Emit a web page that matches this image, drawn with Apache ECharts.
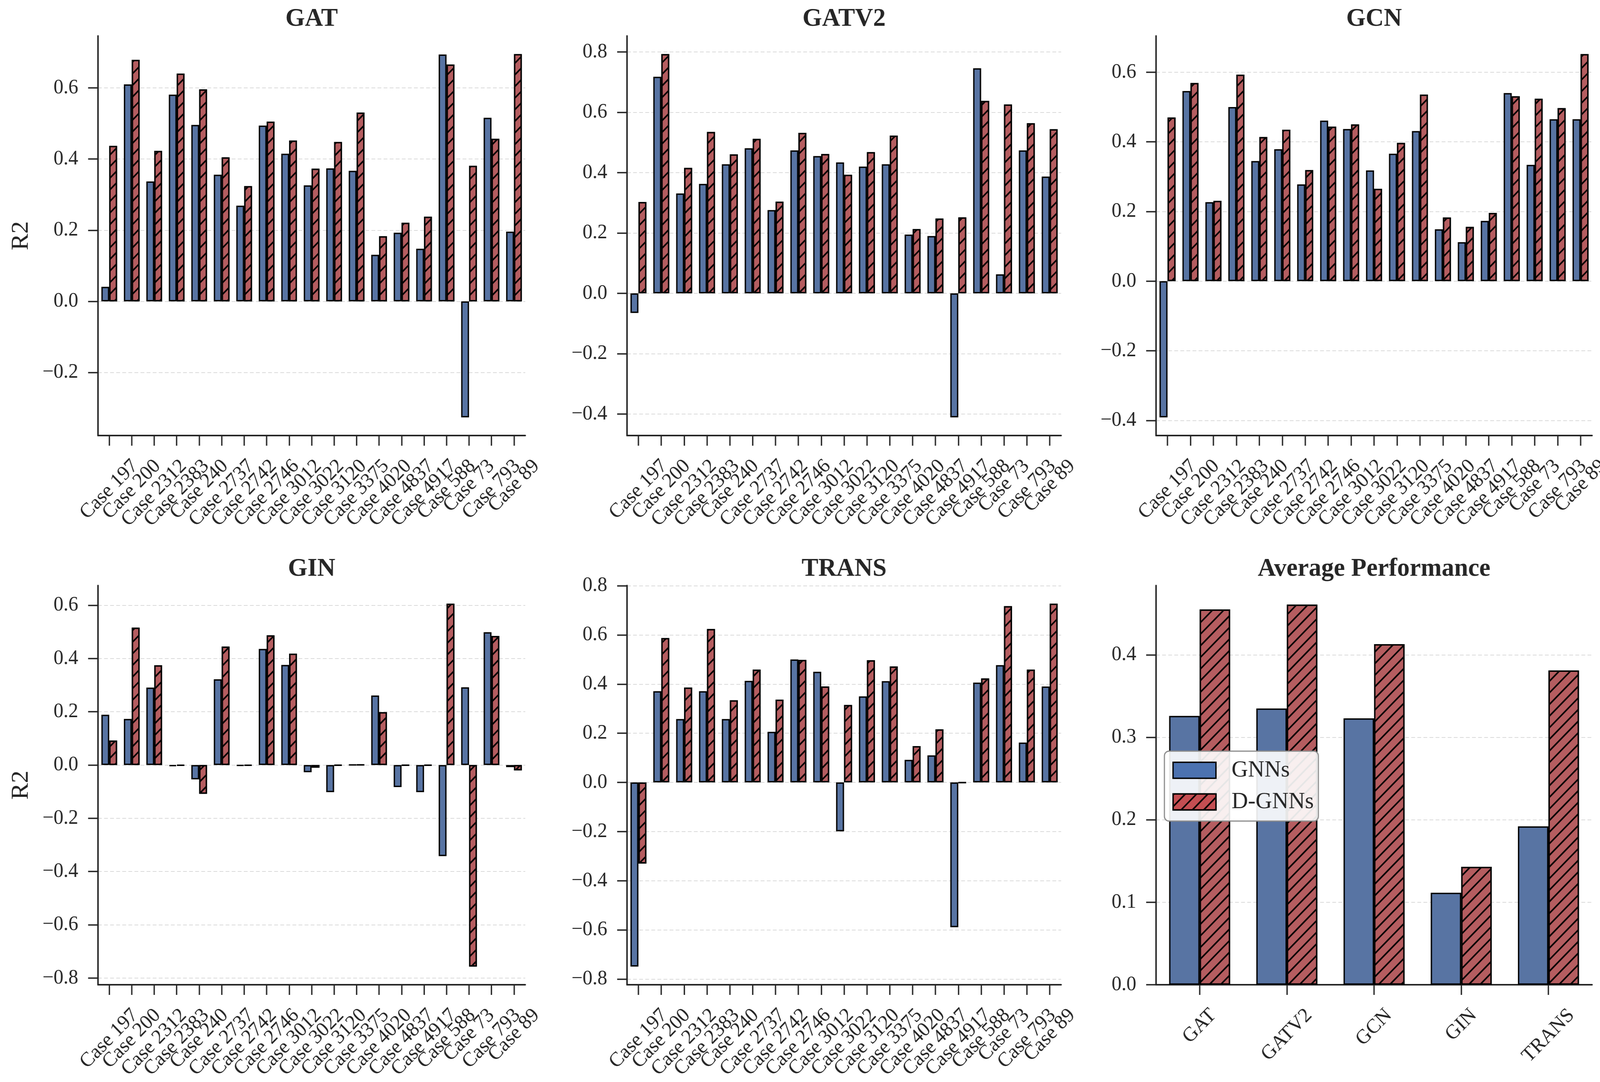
<!DOCTYPE html>
<html>
<head>
<meta charset="utf-8">
<script src="https://cdn.jsdelivr.net/npm/echarts/dist/echarts.min.js"></script>
<style>
html,body{margin:0;padding:0;background:#ffffff;overflow:hidden;}
#chart{width:4213px;height:2770px;transform-origin:0 0;}
</style>
</head>
<body>
<div id="chart"></div>
<script>
// ---------------- data ----------------
const cases = ['Case 197','Case 200','Case 2312','Case 2383','Case 240','Case 2737','Case 2742','Case 2746','Case 3012','Case 3022','Case 3120','Case 3375','Case 4020','Case 4837','Case 4917','Case 588','Case 73','Case 793','Case 89'];

const gatGNN    = [0.041,0.610,0.337,0.581,0.496,0.356,0.269,0.494,0.415,0.326,0.374,0.367,0.131,0.193,0.148,0.694,-0.326,0.516,0.196];
const gatDGNN   = [0.437,0.679,0.423,0.640,0.596,0.405,0.324,0.505,0.452,0.373,0.448,0.531,0.183,0.221,0.238,0.666,0.381,0.457,0.695];
const gatv2GNN  = [-0.065,0.718,0.331,0.363,0.428,0.481,0.276,0.474,0.455,0.434,0.420,0.428,0.195,0.190,-0.411,0.746,0.063,0.474,0.387];
const gatv2DGNN = [0.303,0.793,0.416,0.535,0.461,0.512,0.304,0.532,0.462,0.393,0.468,0.523,0.213,0.248,0.252,0.638,0.626,0.564,0.544];
const gcnGNN    = [-0.391,0.546,0.227,0.500,0.345,0.379,0.278,0.461,0.437,0.318,0.366,0.431,0.149,0.112,0.173,0.540,0.334,0.465,0.465];
const gcnDGNN   = [0.470,0.569,0.231,0.593,0.414,0.435,0.319,0.444,0.450,0.265,0.397,0.536,0.183,0.156,0.196,0.531,0.524,0.497,0.652];
const ginGNN    = [0.189,0.173,0.291,-0.004,-0.054,0.322,-0.003,0.436,0.376,-0.027,-0.102,0.001,0.261,-0.083,-0.102,-0.342,0.292,0.499,-0.008];
const ginDGNN   = [0.092,0.516,0.375,-0.002,-0.108,0.445,-0.002,0.487,0.418,-0.010,-0.001,0.001,0.199,-0.001,-0.001,0.606,-0.757,0.485,-0.020];
const transGNN  = [-0.749,0.371,0.258,0.371,0.258,0.413,0.206,0.500,0.450,-0.199,0.350,0.412,0.092,0.110,-0.589,0.406,0.477,0.162,0.390];
const transDGNN = [-0.330,0.587,0.386,0.624,0.334,0.459,0.337,0.498,0.390,0.315,0.497,0.472,0.148,0.216,-0.001,0.423,0.717,0.459,0.727];

const models   = ['GAT','GATV2','GCN','GIN','TRANS'];
const avgGNN   = [0.326,0.335,0.323,0.1115,0.192];
const avgDGNN  = [0.455,0.461,0.413,0.143,0.381];

const seriesNames = ['GNNs','D-GNNs'];
const panelTitles = ['GAT','GATV2','GCN','GIN','TRANS','Average Performance'];
const yAxisName = 'R2';
const caseStep = 0.2;
const avgStep = 0.1;

// ---------------- styling / layout ----------------
const W = 4213, H = 2770;
const FONT = '"Liberation Serif","Times New Roman",serif';
const INK = '#262626';
const BLUE = '#5874a3', RED = '#b55d60';
const BLUE_LEG = '#4c72b0', RED_LEG = '#c44e52';
const TICK_FS = 52;
const TITLE_FS = 66;

// fit the 4213x2770 design into whatever viewport we get
(function fit(){
  const vw = window.innerWidth || W, vh = window.innerHeight || H;
  const sx = vw / W, sy = vh / H;
  if (Math.abs(sx - 1) > 0.001 || Math.abs(sy - 1) > 0.001) {
    document.getElementById('chart').style.transform = 'scale(' + sx + ',' + sy + ')';
  }
})();

const boxes = [
  {left:258,  top:92,   width:1125, height:1023},
  {left:1651, top:92,   width:1143, height:1023},
  {left:3044, top:92,   width:1148, height:1023},
  {left:258,  top:1499, width:1125, height:1022},
  {left:1651, top:1499, width:1143, height:1022},
  {left:3044, top:1499, width:1148, height:1022}
];
const titleY = [16, 16, 16, 1424, 1424, 1424];

const panels = [
  {cats: cases,  a: gatGNN,   b: gatDGNN,   step: caseStep},
  {cats: cases,  a: gatv2GNN, b: gatv2DGNN, step: caseStep},
  {cats: cases,  a: gcnGNN,   b: gcnDGNN,   step: caseStep},
  {cats: cases,  a: ginGNN,   b: ginDGNN,   step: caseStep},
  {cats: cases,  a: transGNN, b: transDGNN, step: caseStep},
  {cats: models, a: avgGNN,   b: avgDGNN,   step: avgStep}
];

// matplotlib-like autoscale (5% margins, sticky zero for bars)
function limits(arrs){
  let mn = Infinity, mx = -Infinity;
  arrs.forEach(a => a.forEach(v => { mn = Math.min(mn, v); mx = Math.max(mx, v); }));
  const lo = Math.min(0, mn), hi = Math.max(0, mx);
  const pad = 0.05 * (hi - lo);
  return [mn < 0 ? lo - pad : 0, mx > 0 ? hi + pad : 0];
}
function tickVals(lo, hi, step){
  const out = [];
  for (let k = Math.ceil(lo / step - 1e-9); k * step <= hi + 1e-9; k++) out.push(+(k * step).toFixed(3));
  return out;
}
function fmt(v){ return Number(v).toFixed(1).replace('-', '\u2212'); }

const axisLineStyle = {color: INK, width: 4};
const tickLineStyle = {color: INK, width: 3.5};
const hatch = {
  symbol: 'rect', symbolSize: 1, symbolKeepAspect: false,
  dashArrayX: [1, 0], dashArrayY: [3.5, 17],
  rotation: -Math.PI / 4, color: '#000000', backgroundColor: null
};

const grid = [], xAxis = [], yAxis = [], series = [], title = [], lims = [];
panels.forEach((p, i) => {
  const b = boxes[i];
  grid.push({left: b.left, top: b.top, width: b.width, height: b.height, containLabel: false, outerBoundsMode: 'none'});
  const [lo, hi] = limits([p.a, p.b]);
  lims.push([lo, hi]);
  const tv = tickVals(lo, hi, p.step);
  xAxis.push({
    type: 'category', gridIndex: i, data: p.cats, boundaryGap: true,
    axisLine: {show: true, onZero: false, lineStyle: axisLineStyle},
    axisTick: {show: true, alignWithLabel: true, length: 26, inside: false, interval: 0, lineStyle: tickLineStyle},
    axisLabel: {show: false, interval: 0},
    splitLine: {show: false}
  });
  const y = {
    type: 'value', gridIndex: i, min: lo, max: hi,
    axisLine: {show: true, onZero: false, lineStyle: axisLineStyle},
    axisTick: {show: true, length: 26, inside: false, customValues: tv, lineStyle: tickLineStyle},
    axisLabel: {show: true, customValues: tv, formatter: fmt, margin: 52, fontSize: TICK_FS, fontFamily: FONT, color: INK},
    splitLine: {show: true, lineStyle: {color: '#dadada', width: 2, type: [10, 6]}}
  };
  if (i === 0 || i === 3) {
    Object.assign(y, {name: yAxisName, nameLocation: 'middle', nameRotate: 90, nameGap: 170,
      nameTextStyle: {fontSize: 64, fontFamily: FONT, color: INK}});
  }
  yAxis.push(y);
  const bw = '35%';
  series.push({
    type: 'bar', name: seriesNames[0], xAxisIndex: i, yAxisIndex: i, data: p.a,
    barWidth: bw, barGap: '0%', itemStyle: {color: BLUE, borderColor: '#000', borderWidth: 3.5},
    emphasis: {disabled: true}
  });
  series.push({
    type: 'bar', name: seriesNames[1], xAxisIndex: i, yAxisIndex: i, data: p.b,
    barWidth: bw, barGap: '0%', itemStyle: {color: RED, borderColor: '#000', borderWidth: 3.5, decal: hatch},
    emphasis: {disabled: true}
  });
  title.push({
    text: panelTitles[i], left: b.left + b.width / 2, top: titleY[i], textAlign: 'center', padding: 0,
    textStyle: {fontSize: TITLE_FS, fontWeight: 'bold', fontFamily: FONT, color: INK}
  });
});

const option = {
  backgroundColor: '#ffffff',
  animation: false,
  aria: {enabled: false},
  title: title,
  grid: grid, xAxis: xAxis, yAxis: yAxis, series: series,
  legend: {
    show: true, orient: 'vertical', left: 3066, top: 1923,
    padding: [19, 12, 19, 21], itemGap: 21, itemWidth: 113, itemHeight: 41,
    icon: 'rect', selectedMode: false,
    backgroundColor: 'rgba(255,255,255,0.9)', borderColor: '#8c8c8c', borderWidth: 3, borderRadius: 12,
    textStyle: {fontSize: 60, fontFamily: FONT, color: INK, padding: [0, 0, 0, 36]},
    data: [
      {name: seriesNames[0], itemStyle: {color: BLUE_LEG, borderColor: '#000', borderWidth: 3.5}},
      {name: seriesNames[1], itemStyle: {color: RED_LEG, borderColor: '#000', borderWidth: 3.5, decal: hatch}}
    ]
  }
};

const chart = echarts.init(document.getElementById('chart'), null, {renderer: 'canvas', width: W, height: H});
chart.setOption(option);

// category tick labels: rotated 45deg, centred under the tick (matplotlib ha='center')
const mctx = document.createElement('canvas').getContext('2d');
mctx.font = TICK_FS + 'px ' + FONT;
const labelEls = [];
panels.forEach((p, i) => {
  const axisY = chart.convertToPixel({yAxisIndex: i}, lims[i][0]);
  p.cats.forEach((c, j) => {
    const x = chart.convertToPixel({xAxisIndex: i}, j);
    const L = mctx.measureText(c).width;
    const half = (L + TICK_FS * 1.107) / (2 * Math.SQRT2);
    labelEls.push({
      type: 'text', x: x, y: axisY + 50 + half, rotation: Math.PI / 4, silent: true, z: 10,
      style: {text: c, fontSize: TICK_FS, fontFamily: FONT, fill: INK, align: 'center', verticalAlign: 'middle'}
    });
  });
});
chart.setOption({graphic: {elements: labelEls}});
</script>
</body>
</html>
